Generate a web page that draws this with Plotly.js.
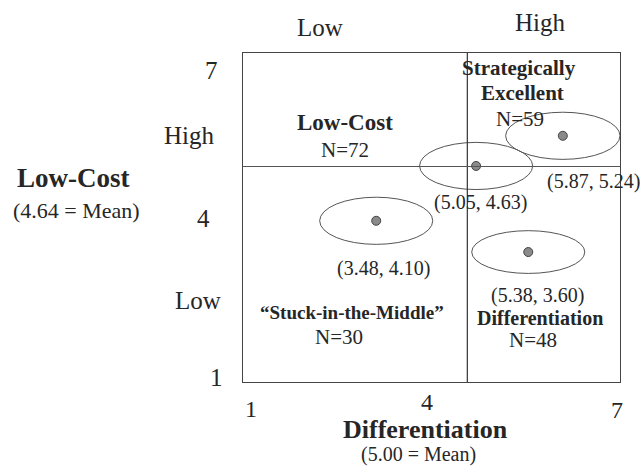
<!DOCTYPE html>
<html>
<head>
<meta charset="utf-8">
<script src="https://cdn.plot.ly/plotly-3.0.1.min.js"></script>
<style>html,body{margin:0;padding:0;background:#fff;}#chart{width:644px;height:467px;}</style>
</head>
<body>
<div id="chart"></div>
<script>
// ---- data (positions as drawn in the schematic, on the 1–7 frame) ----
const clusterNames = ["Mean", "Strategically Excellent", "Stuck-in-the-Middle", "Differentiation"];
const plotX = [4.71, 6.09, 3.12, 5.54];
const plotY = [4.94, 5.49, 3.94, 3.37];
// reported cluster means (Differentiation, Low-Cost)
const meanDiff = [5.05, 5.87, 3.48, 5.38];
const meanCost = [4.63, 5.24, 4.10, 3.60];
// grand-mean reference lines as drawn
const refLineX = 4.57;
const refLineY = 4.93;
const axisTicks = ["1", "4", "7"];
const levelLabels = ["Low", "High"];

// ---- geometry / style ----
const W = 644, H = 467, L = 243, R = 620, T = 53, B = 382;
const px = p => (p - L) / (R - L);
const py = p => (B - p) / (B - T);
const FONT = "Liberation Serif, Times New Roman, serif";
const TXT = "#262626";

const annotations = [];
function ann(text, x, y, size, bold) {
  annotations.push({
    xref: "paper", yref: "paper", x: px(x), y: py(y),
    xanchor: "center", yanchor: "middle", showarrow: false,
    text: bold ? "<b>" + text + "</b>" : text,
    font: {family: FONT, size: size, color: TXT}
  });
}

// header level labels
ann(levelLabels[0], 320, 27, 25);
ann(levelLabels[1], 540, 22, 25);
// y side
ann(axisTicks[2], 211, 70, 25);
ann(levelLabels[1], 189, 135, 25);
ann(axisTicks[1], 203, 218, 25);
ann(levelLabels[0], 198, 300, 25);
ann(axisTicks[0], 216, 377, 25);
ann("Low-Cost", 73, 178, 27, true);
ann("(4.64 = Mean)", 76, 210, 22);
// x side
ann(axisTicks[0], 251, 409, 24);
ann(axisTicks[1], 427, 402, 24);
ann(axisTicks[2], 617, 410, 24);
ann("Differentiation", 425, 429, 26, true);
ann("(5.00 = Mean)", 418, 455, 20);
// quadrant labels
ann("Low-Cost", 345, 123, 23, true);
ann("N=72", 345, 150, 21);
ann("Strategically", 519, 68, 21, true);
ann("Excellent", 522, 93, 21, true);
ann("N=59", 520, 119, 21);
ann("\u201CStuck-in-the-Middle\u201D", 352, 312, 19, true);
ann("N=30", 339, 337, 21);
ann("Differentiation", 540, 318, 20, true);
ann("N=48", 533, 340, 21);

// coordinate labels attached to each cluster point
const labelShift = [[4, 37], [31, 46], [7, 48], [9, 43]];
plotX.forEach((x, i) => {
  annotations.push({
    xref: "x", yref: "y", x: x, y: plotY[i], showarrow: false,
    xanchor: "center", yanchor: "middle",
    xshift: labelShift[i][0], yshift: -labelShift[i][1],
    text: "(" + meanDiff[i].toFixed(2) + ", " + meanCost[i].toFixed(2) + ")",
    font: {family: FONT, size: 20, color: TXT}
  });
});

// ellipses around each cluster + reference lines
const rx = [0.90, 0.91, 0.90, 0.90];
const ry = [0.43, 0.43, 0.43, 0.39];
const shapes = plotX.map((x, i) => ({
  type: "circle", xref: "x", yref: "y",
  x0: x - rx[i], x1: x + rx[i], y0: plotY[i] - ry[i], y1: plotY[i] + ry[i],
  line: {color: "#555", width: 1}, fillcolor: "rgba(0,0,0,0)", layer: "below"
}));
shapes.push({type: "line", xref: "x", yref: "paper", x0: refLineX, x1: refLineX, y0: 0, y1: 1,
  line: {color: "#333", width: 1.2}});
shapes.push({type: "line", xref: "paper", yref: "y", x0: 0, x1: 1, y0: refLineY, y1: refLineY,
  line: {color: "#555", width: 1.2}});

const trace = {
  type: "scatter", mode: "markers", x: plotX, y: plotY, text: clusterNames,
  hoverinfo: "text",
  marker: {size: 9, color: "#8a8a8a", line: {color: "#444", width: 1}},
  showlegend: false, cliponaxis: false
};

const axisCommon = {
  range: [1, 7], showgrid: false, zeroline: false, showticklabels: false,
  ticks: "", showline: true, mirror: true, linecolor: "#444", linewidth: 1.2, fixedrange: true
};

Plotly.newPlot("chart", [trace], {
  width: W, height: H,
  margin: {l: L, r: W - R, t: T, b: H - B, pad: 0},
  paper_bgcolor: "#fff", plot_bgcolor: "#fff",
  xaxis: Object.assign({}, axisCommon),
  yaxis: Object.assign({}, axisCommon),
  shapes: shapes, annotations: annotations, showlegend: false
}, {displayModeBar: false, staticPlot: true});
</script>
</body>
</html>
